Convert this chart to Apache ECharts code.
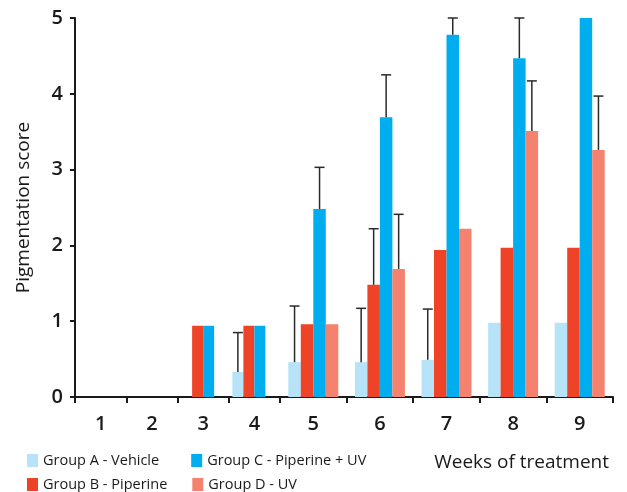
<!DOCTYPE html>
<html>
<head>
<meta charset="utf-8">
<script src="https://cdn.jsdelivr.net/npm/echarts@6/dist/echarts.min.js"></script>
<style>html,body{margin:0;padding:0;background:#fff}#c{width:627px;height:492px}</style>
</head>
<body>
<div id="c"></div>
<script>
const weeks = ['1','2','3','4','5','6','7','8','9'];
const groupNames = ['Group A - Vehicle','Group B - Piperine','Group C - Piperine + UV','Group D - UV'];
const groupA = [0,0,0,0.33,0.46,0.46,0.49,0.98,0.98];
const groupB = [0,0,0.94,0.94,0.96,1.48,1.94,1.97,1.97];
const groupC = [0,0,0.94,0.94,2.48,3.69,4.78,4.47,5.0];
const groupD = [0,0,0,0,0.96,1.69,2.22,3.51,3.26];
// upper end of error bars (null = none)
const errA = [null,null,null,0.85,1.20,1.17,1.16,null,null];
const errB = [null,null,null,null,null,2.22,null,null,null];
const errC = [null,null,null,null,3.03,4.25,5.0,5.0,null];
const errD = [null,null,null,null,null,2.41,null,4.17,3.97];
const yTicks = [0,1,2,3,4,5];

const colors = ['#b7e3f8','#ee4326','#00aeef','#f5826f'];
const values = [groupA,groupB,groupC,groupD];
const errs = [errA,errB,errC,errD];
const font = '"Open Sans", sans-serif';
const split = 4;
const barW = [11, 12.5];

const series = [];
[0,1].forEach(function(g){
  const from = g===0?0:split, to = g===0?split:weeks.length;
  values.forEach(function(v,k){
    series.push({
      type:'bar', name:groupNames[k], xAxisIndex:g, yAxisIndex:g,
      data:v.slice(from,to), barWidth:barW[g], barGap:'0%',
      itemStyle:{color:colors[k]}, emphasis:{disabled:true}, silent:true
    });
  });
  const ed = [];
  errs.forEach(function(e,k){
    for(let i=from;i<to;i++){
      if(e[i]!=null) ed.push([i-from, values[k][i], e[i], k]);
    }
  });
  series.push({
    type:'custom', xAxisIndex:g, yAxisIndex:g, silent:true, z:5,
    data:ed,
    renderItem:function(params, api){
      const k = api.value(3);
      const bw = barW[g];
      const off = (k-1.5)*bw;
      const p0 = api.coord([api.value(0), api.value(1)]);
      const p1 = api.coord([api.value(0), api.value(2)]);
      const x = p0[0]+off;
      const st = {stroke:'#2a2a2a', lineWidth:1.5};
      return {type:'group', children:[
        {type:'line', shape:{x1:x,y1:p0[1],x2:x,y2:p1[1]}, style:st},
        {type:'line', shape:{x1:x-5,y1:p1[1],x2:x+5,y2:p1[1]}, style:st}
      ]};
    }
  });
});

const axisLine = {show:true, lineStyle:{color:'#1a1a1a', width:2}};
function legendOf(top, names, gap){
  return {orient:'horizontal', left:27, top:top, padding:0, itemWidth:11, itemHeight:13, itemGap:gap,
    icon:'rect', selectedMode:false, data:names,
    textStyle:{fontFamily:font, fontSize:14.5, color:'#1a1a1a'}};
}
const chart = echarts.init(document.getElementById('c'));
chart.setOption({
  animation:false,
  grid:[
    {left:75, width:205, top:18, bottom:95},
    {left:280, width:333, top:18, bottom:95}
  ],
  xAxis:[0,1].map(function(g){
    return {
      type:'category', gridIndex:g,
      data: g===0?weeks.slice(0,split):weeks.slice(split),
      axisLine:axisLine,
      axisTick:{show:true, length:6, lineStyle:{color:'#1a1a1a', width:2}},
      axisLabel:{fontFamily:font, fontSize:20, fontWeight:600, color:'#1a1a1a', margin:17}
    };
  }),
  yAxis:[
    {type:'value', gridIndex:0, min:0, max:5, interval:1,
     axisLine:axisLine, axisTick:{show:true,length:5,lineStyle:{color:'#1a1a1a',width:2}},
     splitLine:{show:false},
     axisLabel:{fontFamily:font, fontSize:20, fontWeight:600, color:'#1a1a1a', margin:12,
       formatter:function(v){return yTicks.indexOf(v)>=0?String(v):'';}},
     name:'Pigmentation score', nameLocation:'middle', nameGap:42,
     nameTextStyle:{fontFamily:font, fontSize:19, color:'#1a1a1a'}},
    {type:'value', gridIndex:1, min:0, max:5, interval:1, show:false}
  ],
  legend:[
    legendOf(453, [groupNames[0],groupNames[2]], 32),
    legendOf(477, [groupNames[1],groupNames[3]], 25)
  ],
  title:{text:'Weeks of treatment', right:13, top:448,
    textStyle:{fontFamily:font, fontSize:19, fontWeight:'normal', color:'#1a1a1a'}},
  series:series
});
</script>
</body>
</html>
